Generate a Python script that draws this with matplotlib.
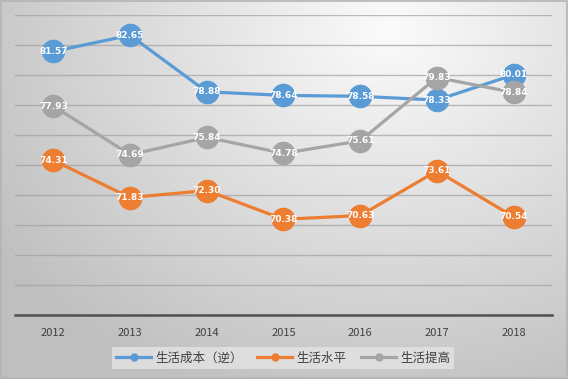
import matplotlib
matplotlib.use('Agg')
import matplotlib.pyplot as plt
import numpy as np
from matplotlib.patches import Rectangle

plt.rcParams['font.family'] = ['Noto Sans CJK SC', 'DejaVu Sans']

years = ['2012', '2013', '2014', '2015', '2016', '2017', '2018']
cost_inv = [81.57, 82.65, 78.88, 78.64, 78.58, 78.33, 80.01]
level = [74.31, 71.83, 72.30, 70.38, 70.63, 73.61, 70.54]
improve = [77.93, 74.69, 75.84, 74.78, 75.61, 79.83, 78.84]
names = ['生活成本（逆）', '生活水平', '生活提高']
colors = ['#5b9bd5', '#ed7d31', '#a5a5a5']

W, H = 568, 379
fig = plt.figure(figsize=(W / 100, H / 100), dpi=100)

# radial gray gradient background
bg = fig.add_axes([0, 0, 1, 1], zorder=0)
yy, xx = np.mgrid[0:H, 0:W]
r = np.sqrt(((xx - 390) / 1.0) ** 2 + ((yy - 30) / 0.85) ** 2)
t = np.clip(r / 470, 0, 1)
shade = 0.985 - 0.235 * t
bg.imshow(np.dstack([shade] * 3), extent=[0, W, H, 0], aspect='auto')
bg.add_patch(Rectangle((0.5, 0.5), W - 1.5, H - 1.5, fill=False, ec='#b4b4b4', lw=1.2))
bg.set_xlim(0, W)
bg.set_ylim(H, 0)
bg.axis('off')

ax = fig.add_axes([15 / W, 1 - 315 / H, 537 / W, 300 / H], zorder=1)
ax.patch.set_alpha(0)
x = np.arange(len(years))
for vals, name, c in zip([cost_inv, level, improve], names, colors):
    ax.plot(x, vals, color=c, lw=2.3, marker='o', ms=16, mec=c, label=name, zorder=3)
    for xi, v in zip(x, vals):
        ax.text(xi, v, f'{v:.2f}', color='white', fontsize=6.5, fontweight='bold',
                ha='center', va='center', zorder=4, family='DejaVu Sans')

ax.set_xlim(-0.5, len(years) - 0.5)
ax.set_ylim(64, 84)
ax.set_yticks(np.arange(64, 85, 2))
ax.yaxis.grid(True, color='#a0a0a0', lw=1, alpha=0.7)
ax.set_axisbelow(True)
ax.tick_params(axis='y', left=False, labelleft=False)
ax.tick_params(axis='x', length=0, labelsize=8, labelcolor='#404040', pad=9)
ax.set_xticks(x)
ax.set_xticklabels(years)
for s in ['top', 'right', 'left']:
    ax.spines[s].set_visible(False)
ax.spines['bottom'].set_color('#505050')
ax.spines['bottom'].set_linewidth(1.8)

handles = [plt.Line2D([0], [0], color=c, lw=2.3, marker='o', ms=5) for c in colors]
leg = fig.legend(handles, names, loc='center', bbox_to_anchor=(283 / W, 1 - 358 / H), ncol=3,
                 frameon=True, fontsize=9, handlelength=2.8, columnspacing=1.2,
                 handletextpad=0.3, borderpad=0.35, fancybox=False)
leg.get_frame().set_facecolor('#e4e4e4')
leg.get_frame().set_edgecolor('none')
leg.get_frame().set_alpha(0.8)
for t_ in leg.get_texts():
    t_.set_color('#404040')

fig.savefig('out.png', dpi=100)
